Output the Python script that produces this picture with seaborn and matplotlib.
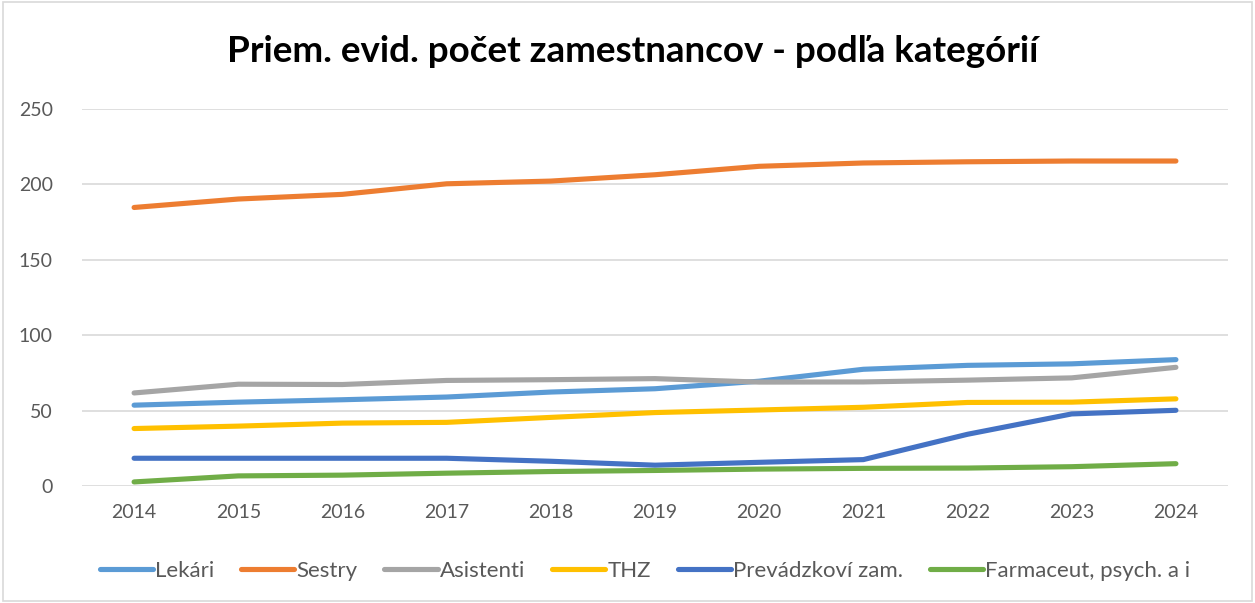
import matplotlib
matplotlib.use("Agg")
import matplotlib.pyplot as plt
import seaborn as sns
import pandas as pd
from matplotlib.patches import Rectangle
from matplotlib.lines import Line2D

years = [2014, 2015, 2016, 2017, 2018, 2019, 2020, 2021, 2022, 2023, 2024]
lekari = [53.6, 55.6, 57.2, 59.0, 62.3, 64.5, 69.5, 77.4, 80.0, 81.0, 83.8]
sestry = [184.7, 190.3, 193.4, 200.4, 202.2, 206.4, 212.0, 214.2, 215.0, 215.5, 215.5]
asistenti = [61.7, 67.5, 67.3, 70.0, 70.5, 71.2, 68.9, 69.0, 70.2, 71.7, 78.7]
thz = [38.1, 39.7, 41.7, 42.2, 45.5, 48.7, 50.4, 52.2, 55.4, 55.6, 57.8]
prevadzkovi = [18.4, 18.4, 18.4, 18.4, 16.4, 13.8, 15.7, 17.5, 34.3, 47.8, 50.2]
farmaceut = [2.7, 6.7, 7.2, 8.5, 9.6, 10.3, 11.2, 11.7, 11.9, 12.8, 14.8]

series_names = ["Lekári", "Sestry", "Asistenti", "THZ", "Prevádzkoví zam.", "Farmaceut, psych. a i"]
series_values = [lekari, sestry, asistenti, thz, prevadzkovi, farmaceut]
colors = ["#5B9BD5", "#ED7D31", "#A5A5A5", "#FFC000", "#4472C4", "#70AD47"]
title = "Priem. evid. počet zamestnancov - podľa kategórií"
y_ticks = [0, 50, 100, 150, 200, 250]

rows = []
for name, vals in zip(series_names, series_values):
    for i, (yr, v) in enumerate(zip(years, vals)):
        rows.append({"idx": i, "year": yr, "value": v, "series": name})
df = pd.DataFrame(rows)

sns.set_theme(style="white")
plt.rcParams["font.family"] = ["Lato", "DejaVu Sans"]

fig = plt.figure(figsize=(12.55, 6.03), dpi=100)
ax = fig.add_axes([82 / 1255, 117 / 603, (1228 - 82) / 1255, (486 - 109) / 603])

sns.lineplot(data=df, x="idx", y="value", hue="series", hue_order=series_names,
             palette=dict(zip(series_names, colors)), linewidth=3.7, ax=ax,
             legend=False, solid_capstyle="round")

ax.set_xlim(-0.5, len(years) - 0.5)
ax.set_ylim(0, 250)
ax.set_yticks(y_ticks)
ax.set_xticks(range(len(years)))
ax.set_xticklabels([str(y) for y in years])
ax.grid(axis="y", color="#D9D9D9", linewidth=1.2)
ax.grid(axis="x", visible=False)
ax.set_axisbelow(True)
for s in ax.spines.values():
    s.set_visible(False)
ax.tick_params(axis="both", length=0, labelsize=14, colors="#595959")
ax.tick_params(axis="y", pad=21)
ax.tick_params(axis="x", pad=13)
ax.set_xlabel("")
ax.set_ylabel("")

handles = [Line2D([0], [0], color=c, linewidth=3.7, solid_capstyle="round") for c in colors]
fig.legend(handles, series_names, loc="center", bbox_to_anchor=(0.514, 32 / 603), ncol=6,
           frameon=False, fontsize=16, handlelength=2.4, handletextpad=0.1,
           columnspacing=1.2, labelcolor="#595959")

fig.text(0.504, 1 - 51 / 603, title, ha="center", va="center", fontsize=26.5,
         fontweight="bold", color="#000000")

fig.patches.append(Rectangle((0.002, 0.003), 0.996, 0.994, transform=fig.transFigure,
                             fill=False, edgecolor="#D9D9D9", linewidth=1.2))

fig.savefig("out.png", dpi=100, facecolor="white")
